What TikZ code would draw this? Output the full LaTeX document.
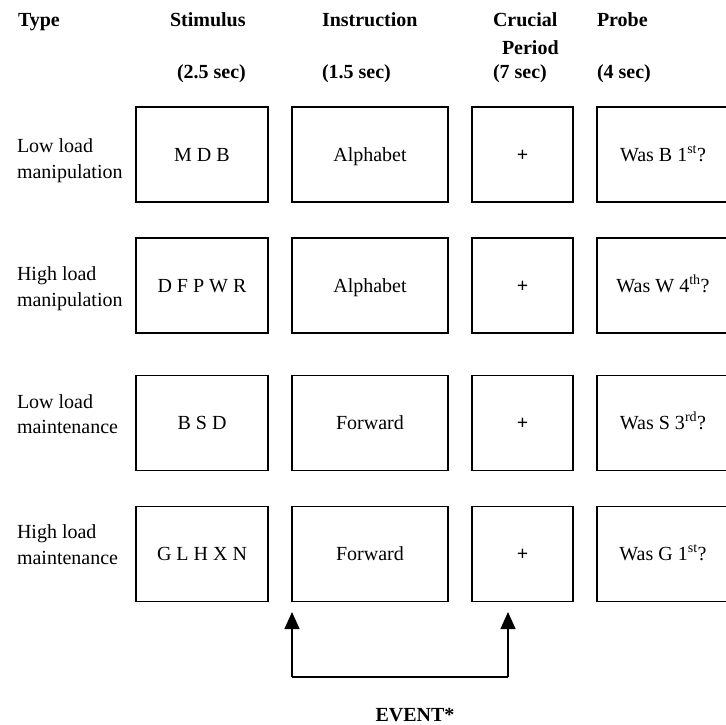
\documentclass[tikz,border=0pt]{standalone}
\usepackage{fontspec}
\setmainfont{Liberation Serif}
\usetikzlibrary{arrows.meta}
\begin{document}
\begin{tikzpicture}[x=1pt,y=-1pt,
  txt/.style={inner sep=0pt, outer sep=0pt, anchor=base west, font=\fontsize{20}{24}\selectfont},
  hdr/.style={txt, font=\fontsize{20}{24}\selectfont\bfseries},
  cell/.style={draw, line width=1.2pt, inner sep=0pt, outer sep=0pt, minimum height=95pt, text height=13pt, text depth=0pt, font=\fontsize{20}{24}\selectfont},
  conn/.style={line width=1.2pt},
  arr/.style={conn, -{Triangle[width=15pt,length=17pt]}}]
\clip (0,0) rectangle (726,725);
\fill[white] (0,0) rectangle (726,725);
% headers
\node[hdr] (hType) at (18,27) {Type};
\node[hdr] (hStim) at (170,27) {Stimulus};
\node[hdr] (hInst) at (322,27) {Instruction};
\node[hdr] (hCru) at (493,27) {Crucial};
\node[hdr] (hPer) at (502,55) {Period};
\node[hdr] (hProbe) at (597,27) {Probe};
\node[hdr] (tStim) at (177,79) {(2.5 sec)};
\node[hdr] (tInst) at (322,79) {(1.5 sec)};
\node[hdr] (tCru) at (493,79) {(7 sec)};
\node[hdr] (tProbe) at (597,79) {(4 sec)};
% row labels
\node[txt] (l1a) at (17,152) {Low load};
\node[txt] (l1b) at (17,178) {manipulation};
\node[txt] (l2a) at (17,280) {High load};
\node[txt] (l2b) at (17,306) {manipulation};
\node[txt] (l3a) at (17,408) {Low load};
\node[txt] (l3b) at (17,433) {maintenance};
\node[txt] (l4a) at (17,538) {High load};
\node[txt] (l4b) at (17,564) {maintenance};
% row 1
\node[cell, minimum width=132pt] (S1) at (202,154.5) {M D B};
\node[cell, minimum width=156pt] (I1) at (370,154.5) {Alphabet};
\node[cell, minimum width=101pt] (C1) at (522.5,154.5) {\textbf{+}};
\node[cell, minimum width=132pt] (P1) at (663,154.5) {Was B 1\textsuperscript{st}?};
% row 2
\node[cell, minimum width=132pt] (S2) at (202,285.5) {D F P W R};
\node[cell, minimum width=156pt] (I2) at (370,285.5) {Alphabet};
\node[cell, minimum width=101pt] (C2) at (522.5,285.5) {\textbf{+}};
\node[cell, minimum width=132pt] (P2) at (663,285.5) {Was W 4\textsuperscript{th}?};
% row 3
\node[cell, minimum width=132pt] (S3) at (202,423) {B S D};
\node[cell, minimum width=156pt] (I3) at (370,423) {Forward};
\node[cell, minimum width=101pt] (C3) at (522.5,423) {\textbf{+}};
\node[cell, minimum width=132pt] (P3) at (663,423) {Was S 3\textsuperscript{rd}?};
% row 4
\node[cell, minimum width=132pt] (S4) at (202,554) {G L H X N};
\node[cell, minimum width=156pt] (I4) at (370,554) {Forward};
\node[cell, minimum width=101pt] (C4) at (522.5,554) {\textbf{+}};
\node[cell, minimum width=132pt] (P4) at (663,554) {Was G 1\textsuperscript{st}?};
% event connector
\coordinate (evL) at (292,677);
\coordinate (evR) at (508,677);
\coordinate (tipL) at (292,612);
\coordinate (tipR) at (508,612);
\draw[conn] (evL) -- (evR);
\draw[arr] (evL) -- (tipL);
\draw[arr] (evR) -- (tipR);
\node[hdr, anchor=base] (event) at (415,721) {EVENT*};
\end{tikzpicture}
\end{document}
